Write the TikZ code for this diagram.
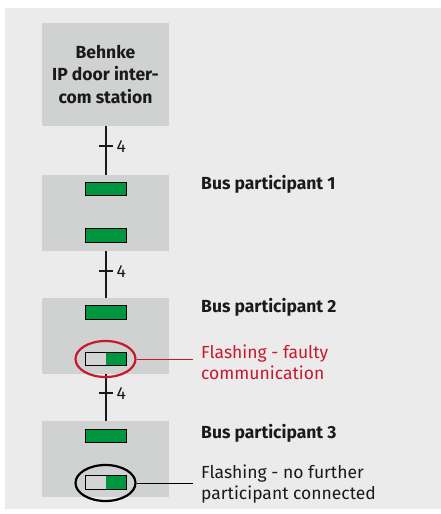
\documentclass[tikz,border=0pt]{standalone}
\usepackage{fontspec}
\setmainfont{Fira Sans}
\usetikzlibrary{shapes.geometric}
\definecolor{bggrey}{HTML}{EBEBEB}
\definecolor{boxgrey}{HTML}{D0D1D1}
\definecolor{ledgreen}{HTML}{009640}
\definecolor{ledoff}{HTML}{D4D4D4}
\definecolor{alertred}{HTML}{C8182E}
\definecolor{textdark}{HTML}{1A1A1A}
\tikzset{
  x=1pt, y=-1pt,
  unitbox/.style={fill=boxgrey, draw=none, minimum width=127pt, inner sep=0pt},
  ledon/.style={fill=ledgreen, draw=black, line width=0.8pt, minimum width=41pt, minimum height=13.5pt, inner sep=0pt},
  ledhalf/.style={ledon, path picture={\fill[ledoff] (path picture bounding box.north west) rectangle (path picture bounding box.south);}},
  busline/.style={line width=2pt, textdark},
  tick/.style={line width=2pt, textdark},
  ring/.style={ellipse, draw, line width=2.2pt, minimum width=60pt, minimum height=36pt, inner sep=0pt},
  lbl/.style={anchor=base west, inner sep=0pt, text=textdark, font=\fontsize{17.5}{23}\selectfont},
  title/.style={lbl, font=\fontsize{17.5}{23}\selectfont\bfseries},
  note/.style={anchor=base west, inner sep=0pt, align=left, font=\fontsize{17.5}{21.5}\selectfont},
}
\begin{document}
\begin{tikzpicture}
\useasboundingbox (0,0) rectangle (441,514);
\fill[bggrey] (5,8) rectangle (441,509);
% units
\node[unitbox, minimum height=103pt, align=center, text=textdark, font=\fontsize{17.5}{22.5}\selectfont\bfseries] (door) at (105.5,74.5) {Behnke\\IP door inter-\\com station};
\node[unitbox, minimum height=76pt] (p1) at (105.5,213) {};
\node[unitbox, minimum height=76pt] (p2) at (105.5,336) {};
\node[unitbox, minimum height=76pt] (p3) at (105.5,459) {};
% bus lines
\draw[busline] (door.south) -- (p1.north);
\draw[busline] (p1.south) -- (p2.north);
\draw[busline] (p2.south) -- (p3.north);
% ticks
\coordinate (t1) at (105.5,146);
\coordinate (t2) at (105.5,271);
\coordinate (t3) at (105.5,393);
\foreach \t in {t1,t2,t3}{
  \draw[tick] ([xshift=-7pt]\t) -- ([xshift=7pt]\t);
  \node[lbl, anchor=west] at ([xshift=11pt, yshift=-1pt]\t) {4};
}
% LEDs
\node[ledon] (p1a) at (105.5,189) {};
\node[ledon] (p1b) at (105.5,235.5) {};
\node[ledon] (p2a) at (105.5,312.5) {};
\node[ledhalf] (p2b) at (105.5,359) {};
\node[ledon] (p3a) at (105.5,436) {};
\node[ledhalf] (p3b) at (105.5,482.5) {};
% rings
\node[ring, draw=alertred] (r2) at (105.5,359) {};
\node[ring, draw=black] (r3) at (105.5,483) {};
\coordinate (e2) at (193,359);
\coordinate (e3) at (193,483);
\draw[alertred, line width=1pt] (r2.east) -- (e2);
\draw[black, line width=1pt] (r3.east) -- (e3);
% labels
\node[title] (l1) at (201,189) {Bus participant 1};
\node[title] (l2) at (201,312) {Bus participant 2};
\node[title] (l3) at (201,438) {Bus participant 3};
\node[note, text=alertred] (n2) at (201,379.5) {Flashing - faulty\\communication};
\node[note, text=textdark] (n3) at (201,499.5) {Flashing - no further\\participant connected};
\end{tikzpicture}
\end{document}
